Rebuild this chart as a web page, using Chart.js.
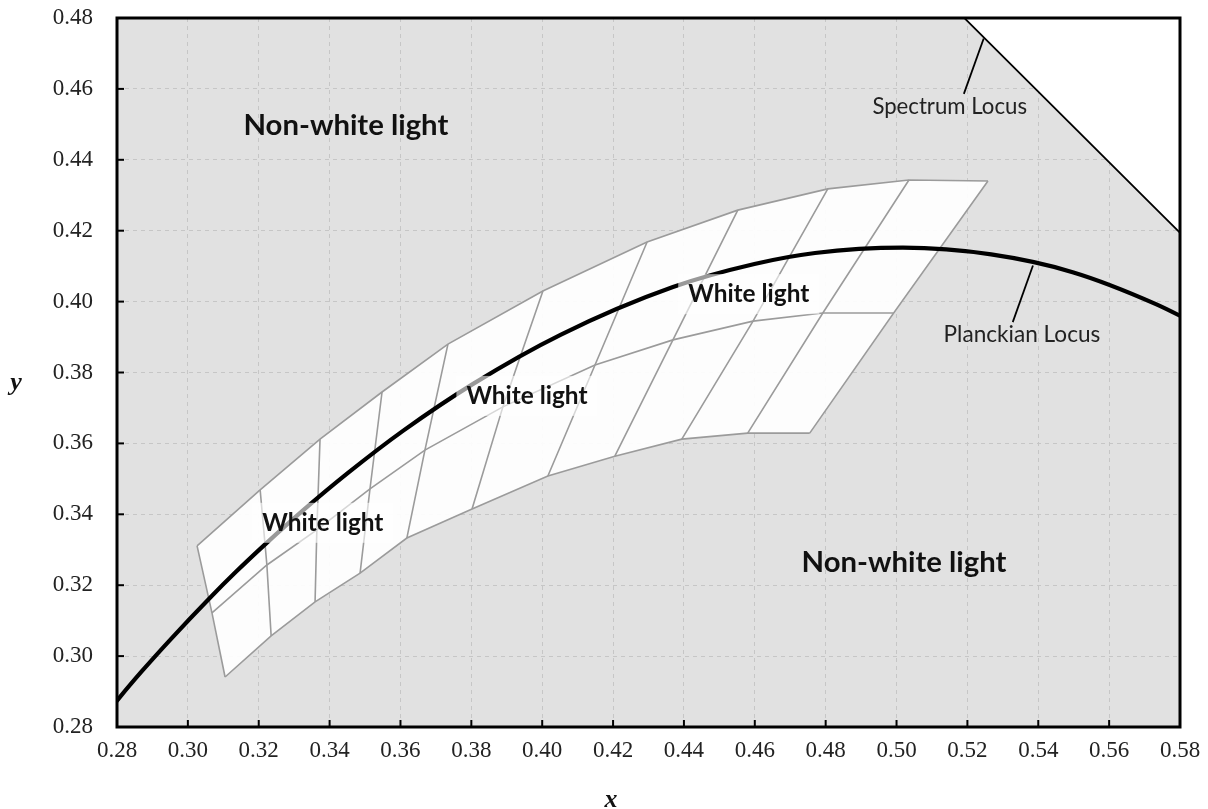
<!DOCTYPE html>
<html><head><meta charset="utf-8">
<script src="https://cdn.jsdelivr.net/npm/chart.js@4.4.0/dist/chart.umd.min.js"></script>
<style>html,body{margin:0;padding:0;background:#fff;overflow:hidden}</style>
</head><body>
<canvas id="c" width="1208" height="809" style="width:1208px;height:809px;display:block"></canvas>
<script>
// ---- data ----
const xMin = 0.28, xMax = 0.58, yMin = 0.28, yMax = 0.48, tickStep = 0.02;

// Planckian locus (ascending x)
const planckX = [0.2760,0.2807,0.2869,0.2952,0.3064,0.3135,0.3221,0.3325,0.3451,0.3608,0.3805,0.4053,0.4369,0.4599,0.4770,0.5018,0.5267,0.5497,0.5732,0.5857];
const planckY = [0.2825,0.2883,0.2956,0.3048,0.3166,0.3237,0.3318,0.3411,0.3516,0.3636,0.3768,0.3907,0.4041,0.4106,0.4137,0.4152,0.4133,0.4083,0.3993,0.3931];

// Spectrum locus segment
const spectrumX = [0.5125,0.5752,0.6270];
const spectrumY = [0.4866,0.4242,0.3725];

// White-light quadrangle mesh: top, middle and bottom boundary vertices
const topX = [0.3026,0.3204,0.3373,0.3548,0.3734,0.4002,0.4296,0.4552,0.4806,0.5035,0.5258];
const topY = [0.3311,0.3469,0.3612,0.3745,0.3880,0.4030,0.4168,0.4258,0.4318,0.4343,0.4340];
const midX = [0.3068,0.3223,0.3364,0.3514,0.3669,0.3889,0.4149,0.4369,0.4595,0.4792,0.4992];
const midY = [0.3122,0.3257,0.3356,0.3472,0.3581,0.3703,0.3821,0.3892,0.3945,0.3968,0.3968];
const botX = [0.3105,0.3235,0.3359,0.3486,0.3618,0.3802,0.4016,0.4205,0.4394,0.4580,0.4755];
const botY = [0.2941,0.3057,0.3153,0.3234,0.3333,0.3415,0.3508,0.3564,0.3612,0.3629,0.3629];

// Leader lines
const spectrumLeaderX = [0.5246,0.5190];
const spectrumLeaderY = [0.4742,0.4586];
const planckLeaderX = [0.5385,0.5328];
const planckLeaderY = [0.4102,0.3942];

// Text annotations
const regionLabels = ['Non-white light','Non-white light'];
const regionLabelX = [0.3446,0.5021];
const regionLabelY = [0.4498,0.3263];
const whiteLabels = ['White light','White light','White light'];
const whiteLabelX = [0.3381,0.3957,0.4583];
const whiteLabelY = [0.3376,0.3734,0.4021];
const locusLabels = ['Spectrum Locus','Planckian Locus'];
const locusLabelX = [0.5150,0.5354];
const locusLabelY = [0.4549,0.3906];

// ---- build ----
const pts = (xs, ys) => xs.map((x, i) => ({x, y: ys[i]}));
const meshOutline = pts(topX, topY).concat(pts(botX, botY).reverse());
meshOutline.push(meshOutline[0]);

const base = {showLine: true, pointRadius: 0, pointHoverRadius: 0, fill: false};
const datasets = [];
datasets.push(Object.assign({}, base, {data: meshOutline, borderWidth: 0, borderColor: 'rgba(0,0,0,0)',
  backgroundColor: 'rgba(255,255,255,0.93)', fill: 'shape', order: 20}));
datasets.push(Object.assign({}, base, {data: pts(spectrumX, spectrumY), borderColor: '#000', borderWidth: 1.8,
  backgroundColor: '#ffffff', fill: 'end', order: 19}));
const meshColor = '#9b9b9b';
[[topX, topY], [midX, midY], [botX, botY]].forEach(([xs, ys]) => {
  datasets.push(Object.assign({}, base, {data: pts(xs, ys), borderColor: meshColor, borderWidth: 1.6, order: 10}));
});
topX.forEach((_, i) => {
  datasets.push(Object.assign({}, base, {data: [{x: topX[i], y: topY[i]}, {x: midX[i], y: midY[i]}, {x: botX[i], y: botY[i]}],
    borderColor: meshColor, borderWidth: 1.6, order: 10}));
});
datasets.push(Object.assign({}, base, {data: pts(planckX, planckY), borderColor: '#000', borderWidth: 4.2,
  cubicInterpolationMode: 'monotone', order: 2}));
datasets.push(Object.assign({}, base, {data: pts(spectrumLeaderX, spectrumLeaderY), borderColor: '#000', borderWidth: 1.8, order: 3}));
datasets.push(Object.assign({}, base, {data: pts(planckLeaderX, planckLeaderY), borderColor: '#000', borderWidth: 1.8, order: 3}));

const SANS = 'Lato, "Open Sans", "DejaVu Sans", sans-serif';
const SERIF = '"Liberation Serif", "DejaVu Serif", serif';

function fitFont(ctx, text, weight, target) {
  ctx.font = weight + ' 100px ' + SANS;
  const w = ctx.measureText(text).width;
  return weight + ' ' + (100 * target / w).toFixed(1) + 'px ' + SANS;
}

const decor = {
  id: 'decor',
  beforeDraw(chart) {
    const {ctx, chartArea: a} = chart;
    ctx.save();
    ctx.fillStyle = '#e1e1e1';
    ctx.fillRect(a.left, a.top, a.right - a.left, a.bottom - a.top);
    ctx.restore();
  },
  afterDatasetsDraw(chart) {
    const {ctx, chartArea: a, scales: {x, y}} = chart;
    ctx.save();
    ctx.textAlign = 'center';
    ctx.textBaseline = 'middle';
    // white light labels with translucent halo box
    whiteLabels.forEach((t, i) => {
      const px = x.getPixelForValue(whiteLabelX[i]), py = y.getPixelForValue(whiteLabelY[i]);
      ctx.font = fitFont(ctx, t, 'bold', 121);
      const w = ctx.measureText(t).width;
      ctx.fillStyle = 'rgba(255,255,255,0.6)';
      ctx.fillRect(px - w / 2 - 10, py - 20, w + 20, 40);
      ctx.fillStyle = '#111';
      ctx.fillText(t, px, py);
    });
    regionLabels.forEach((t, i) => {
      const px = x.getPixelForValue(regionLabelX[i]), py = y.getPixelForValue(regionLabelY[i]);
      ctx.font = fitFont(ctx, t, 'bold', 205);
      ctx.fillStyle = '#111';
      ctx.fillText(t, px, py);
    });
    const locusW = [155, 157];
    locusLabels.forEach((t, i) => {
      const px = x.getPixelForValue(locusLabelX[i]), py = y.getPixelForValue(locusLabelY[i]);
      ctx.font = fitFont(ctx, t, 'normal', locusW[i]);
      ctx.fillStyle = '#222';
      ctx.fillText(t, px, py);
    });
    // inward ticks
    ctx.strokeStyle = '#000';
    ctx.lineWidth = 2;
    x.ticks.forEach(tk => {
      const px = x.getPixelForValue(tk.value);
      if (px <= a.left + 2 || px >= a.right - 2) return;
      ctx.beginPath(); ctx.moveTo(px, a.bottom); ctx.lineTo(px, a.bottom - 7); ctx.stroke();
    });
    y.ticks.forEach(tk => {
      const py = y.getPixelForValue(tk.value);
      if (py <= a.top + 2 || py >= a.bottom - 2) return;
      ctx.beginPath(); ctx.moveTo(a.left, py); ctx.lineTo(a.left + 7, py); ctx.stroke();
    });
    // frame
    ctx.lineWidth = 3;
    ctx.strokeRect(a.left, a.top, a.right - a.left, a.bottom - a.top);
    ctx.restore();
  },
  afterDraw(chart) {
    const {ctx} = chart;
    ctx.save();
    ctx.fillStyle = '#111';
    ctx.font = 'italic bold 26px ' + SERIF;
    ctx.textAlign = 'center';
    ctx.textBaseline = 'middle';
    ctx.fillText('x', 611, 800);
    ctx.fillText('y', 16, 383);
    ctx.restore();
  }
};

new Chart(document.getElementById('c'), {
  type: 'scatter',
  data: {datasets},
  options: {
    responsive: false,
    devicePixelRatio: 1,
    animation: false,
    events: [],
    layout: {padding: {left: 0, right: 28, top: 18, bottom: 0}},
    plugins: {legend: {display: false}, tooltip: {enabled: false}},
    scales: {
      x: {
        type: 'linear', min: xMin, max: xMax,
        ticks: {stepSize: tickStep, callback: v => v.toFixed(2), color: '#222',
          font: {family: SERIF, size: 23}, padding: 10, maxRotation: 0, autoSkip: false},
        grid: {color: '#c6c6c6', lineWidth: 1, drawTicks: false},
        border: {display: false, dash: [4, 4]},
        afterFit(s) { s.height = 82; s.paddingLeft = 0; s.paddingRight = 0; }
      },
      y: {
        type: 'linear', min: yMin, max: yMax,
        ticks: {stepSize: tickStep, callback: v => v.toFixed(2), color: '#222',
          font: {family: SERIF, size: 23}, padding: 24, autoSkip: false},
        grid: {color: '#c6c6c6', lineWidth: 1, drawTicks: false},
        border: {display: false, dash: [4, 4]},
        afterFit(s) { s.width = 117; s.paddingTop = 0; s.paddingBottom = 0; }
      }
    }
  },
  plugins: [decor]
});
</script>
</body></html>
